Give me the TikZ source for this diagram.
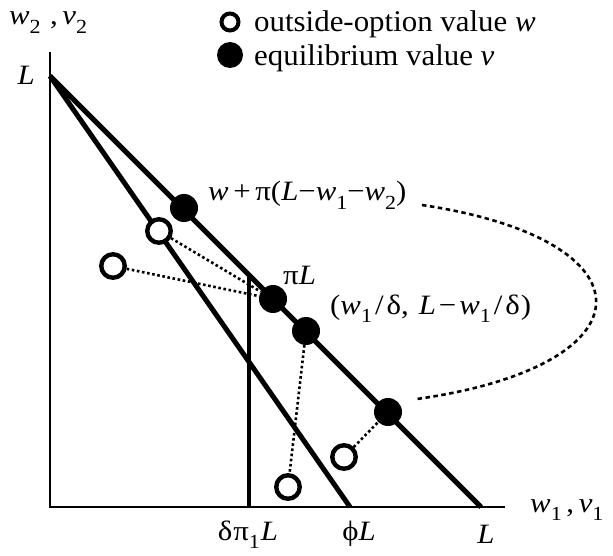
\documentclass[tikz,border=0pt]{standalone}
\usepackage{fontspec}
\setmainfont[FakeStretch=1.1]{Liberation Serif}
\newfontfamily\legendfont[FakeStretch=1.03]{Liberation Serif}
\newcommand\vi[1]{\textit{#1}}
\newcommand\mysub[1]{\raisebox{-0.3em}{\fontsize{20}{20}\selectfont #1}}
\begin{document}
\begin{tikzpicture}[x=1pt,y=-1pt,
  axis/.style={line width=2.3pt},
  mainline/.style={line width=5pt},
  fdot/.style={circle,fill=black,inner sep=0pt,minimum size=28pt},
  odot/.style={circle,draw=black,fill=white,line width=4.4pt,inner sep=0pt,minimum size=23.5pt},
  odotsmall/.style={circle,draw=black,fill=white,line width=4pt,inner sep=0pt,minimum size=17pt},
  fdotsmall/.style={circle,fill=black,inner sep=0pt,minimum size=26pt},
  dotline/.style={line width=2.6pt,dash pattern=on 2.6pt off 2.6pt},
  dashcurve/.style={line width=2.6pt,dash pattern=on 4.5pt off 3.5pt},
  lbl/.style={inner sep=0pt,font=\fontsize{28}{32}\selectfont},
  leg/.style={inner sep=0pt,font=\legendfont\fontsize{30}{34}\selectfont}]
\useasboundingbox (0,0) rectangle (613,556);
% axes
\coordinate (O) at (50,507);
\coordinate (ytop) at (50,52);
\coordinate (xend) at (505,507);
\draw[axis] (ytop) -- (O) -- (xend);
% lines
\coordinate (L) at (50,76);
\coordinate (Lx) at (481,507);
\coordinate (phiL) at (350,507);
\draw[mainline] (L) -- (Lx);
\draw[mainline] (L) -- (phiL);
\coordinate (dp) at (249,507);
\coordinate (dpt) at (249,275);
\draw[line width=3.6pt] (dp) -- (dpt);
% dots
\node[fdot] (v1) at (184,208) {};
\node[fdot] (v2) at (273,299) {};
\node[fdot] (v3) at (306,331) {};
\node[fdot] (v4) at (388,412) {};
\node[odot] (w1) at (159,231) {};
\node[odot] (w2) at (113,266) {};
\node[odot] (w3) at (288,487) {};
\node[odot] (w4) at (344,457) {};
% dotted connectors
\draw[dotline] (w1) -- (v2);
\draw[dotline] (w2) -- (v2);
\draw[dotline] (v3) -- (w3);
\draw[dotline] (w4) -- (v4);
% dashed curve
\coordinate (cs) at (422,205);
\coordinate (ce) at (417,399);
\draw[dashcurve] (cs) .. controls (655,240) and (655,365) .. (ce);
% labels
\node[lbl,anchor=base west] (t1) at (208,201) {\vi{w}\,+\,π(\vi{L}−\vi{w}\mysub{1}−\vi{w}\mysub{2})};
\node[lbl,anchor=base west] (t2) at (283,284) {π\vi{L}};
\node[lbl,anchor=base west] (t3) at (330,314) {(\vi{w}\mysub{1}\kern3pt/\kern3ptδ,\kern10pt\vi{L}\kern3pt−\kern3pt\vi{w}\mysub{1}\kern3pt/\kern3ptδ\kern1pt)};
\node[lbl,anchor=base] (t4) at (248,540) {δ\kern1ptπ\mysub{1}\kern1pt\vi{L}};
\node[lbl,anchor=base] (t5) at (359,540) {ϕ\vi{L}};
\node[lbl,anchor=base] (t6) at (486,543) {\vi{L}};
\node[lbl,anchor=base west] (t7) at (530,512) {\vi{w}\mysub{1}\,,\,\vi{v}\mysub{1}};
\node[lbl,anchor=base west] (t8) at (9,25) {\vi{w}\mysub{2}\,\,,\,\vi{v}\mysub{2}};
\node[lbl,anchor=base east] (t9) at (35,85) {\vi{L}};
% legend
\node[odotsmall] (lo) at (230,22) {};
\node[fdotsmall] (lf) at (230,55) {};
\node[leg,anchor=base west] (lt1) at (254,32) {outside-option value \textit{w}};
\node[leg,anchor=base west] (lt2) at (254,66) {equilibrium value \textit{v}};
\end{tikzpicture}
\end{document}
